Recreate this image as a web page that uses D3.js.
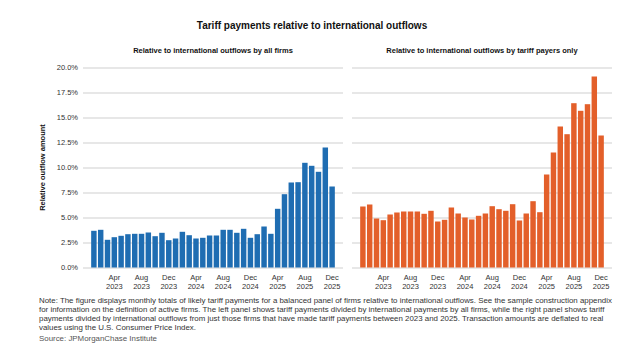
<!DOCTYPE html>
<html>
<head>
<meta charset="utf-8">
<script src="https://cdn.jsdelivr.net/npm/d3@7"></script>
<style>
  body { margin: 0; background: #fff; }
  svg { display: block; font-family: "Liberation Sans", Arial, sans-serif; }
</style>
</head>
<body>
<div id="chart"><svg width="624" height="352"></svg></div>
<script>
const months = [
  "Jan 2023", "Feb 2023", "Mar 2023", "Apr 2023", "May 2023", "Jun 2023",
  "Jul 2023", "Aug 2023", "Sep 2023", "Oct 2023", "Nov 2023", "Dec 2023",
  "Jan 2024", "Feb 2024", "Mar 2024", "Apr 2024", "May 2024", "Jun 2024",
  "Jul 2024", "Aug 2024", "Sep 2024", "Oct 2024", "Nov 2024", "Dec 2024",
  "Jan 2025", "Feb 2025", "Mar 2025", "Apr 2025", "May 2025", "Jun 2025",
  "Jul 2025", "Aug 2025", "Sep 2025", "Oct 2025", "Nov 2025", "Dec 2025"
];

// percent of international outflows
const allFirms = [
  3.67, 3.77, 2.77, 3.03, 3.17, 3.33, 3.37, 3.37, 3.5, 3.13, 3.47, 2.73,
  2.9, 3.57, 3.23, 2.9, 2.97, 3.2, 3.2, 3.77, 3.77, 3.47, 3.87, 2.97,
  3.33, 4.1, 3.37, 5.87, 7.33, 8.5, 8.53, 10.47, 10.17, 9.57, 12.0, 8.1
];
const tariffPayers = [
  6.1, 6.3, 4.9, 4.73, 5.3, 5.5, 5.6, 5.6, 5.6, 5.37, 5.67, 4.6,
  4.77, 6.0, 5.4, 5.0, 4.8, 5.17, 5.4, 6.13, 5.83, 5.67, 6.33, 4.7,
  5.4, 6.63, 5.53, 9.3, 11.5, 14.1, 13.33, 16.43, 15.67, 16.33, 19.1, 13.2
];

const tickMonths = [
  "Apr 2023", "Aug 2023", "Dec 2023", "Apr 2024", "Aug 2024", "Dec 2024",
  "Apr 2025", "Aug 2025", "Dec 2025"
];
const yTicks = [0, 2.5, 5, 7.5, 10, 12.5, 15, 17.5, 20];

const panelTitles = [
  "Relative to international outflows by all firms",
  "Relative to international outflows by tariff payers only"
];
const noteLines = [
  "Note: The figure displays monthly totals of likely tariff payments for a balanced panel of firms relative to international outflows. See the sample construction appendix",
  "for information on the definition of active firms. The left panel shows tariff payments divided by international payments by all firms, while the right panel shows tariff",
  "payments divided by international outflows from just those firms that have made tariff payments between 2023 and 2025. Transaction amounts are deflated to real",
  "values using the U.S. Consumer Price Index."
];

document.addEventListener("DOMContentLoaded", function () {
  const svg = d3.select("#chart svg");

  const y = d3.scaleLinear().domain([0, 20]).range([267.5, 67.5]);

  const panels = [
    { values: allFirms, color: "#1f6db2", x0: 83, x1: 343, title: panelTitles[0], yLabels: true },
    { values: tariffPayers, color: "#e35f2a", x0: 352, x1: 612, title: panelTitles[1], yLabels: false }
  ];

  svg.append("text")
    .attr("x", 312)
    .attr("y", 29)
    .attr("text-anchor", "middle")
    .style("font-size", "10px")
    .style("font-weight", "bold")
    .style("fill", "#111")
    .text("Tariff payments relative to international outflows");

  panels.forEach((p) => {
    const x = d3.scaleBand()
      .domain(months)
      .range([p.x0, p.x1])
      .paddingInner(0.2)
      .paddingOuter(1.2);

    const g = svg.append("g");

    g.append("text")
      .attr("x", (p.x0 + p.x1) / 2)
      .attr("y", 53)
      .attr("text-anchor", "middle")
      .style("font-size", "7.5px")
      .style("font-weight", "bold")
      .style("fill", "#111")
      .text(p.title);

    // gridlines
    const yAxis = g.append("g")
      .attr("transform", `translate(${p.x0},0)`)
      .call(
        d3.axisLeft(y)
          .tickValues(yTicks)
          .tickSize(-(p.x1 - p.x0))
          .tickPadding(5)
          .tickFormat((d) => (p.yLabels ? d.toFixed(1) + "%" : ""))
      );
    yAxis.select(".domain").remove();
    yAxis.selectAll(".tick line").attr("stroke", "#cfcfcf");
    yAxis.selectAll(".tick text")
      .style("font-size", "7.5px")
      .style("font-family", "Liberation Sans, Arial, sans-serif")
      .style("fill", "#333");

    g.selectAll("rect")
      .data(p.values)
      .enter()
      .append("rect")
      .attr("x", (d, i) => x(months[i]))
      .attr("width", x.bandwidth())
      .attr("y", (d) => y(d))
      .attr("height", (d) => y(0) - y(d))
      .attr("fill", p.color);

    const xAxis = g.append("g")
      .attr("transform", `translate(0,${y(0)})`)
      .call(d3.axisBottom(x).tickValues(tickMonths).tickSize(0).tickFormat(""));
    xAxis.select(".domain").remove();

    const labels = xAxis.selectAll(".tick")
      .append("text")
      .attr("text-anchor", "middle")
      .style("font-size", "7.5px")
      .style("fill", "#333");
    labels.append("tspan")
      .attr("x", 0)
      .attr("y", 12)
      .text((d) => d.split(" ")[0]);
    labels.append("tspan")
      .attr("x", 0)
      .attr("y", 21)
      .text((d) => d.split(" ")[1]);
  });

  svg.append("text")
    .attr("transform", `translate(45,${y(10)}) rotate(-90)`)
    .attr("text-anchor", "middle")
    .style("font-size", "7.5px")
    .style("font-weight", "bold")
    .style("fill", "#111")
    .text("Relative outflow amount");

  const note = svg.append("g").attr("transform", "translate(39,303)");
  note.selectAll("text")
    .data(noteLines)
    .enter()
    .append("text")
    .attr("x", 0)
    .attr("y", (d, i) => i * 9)
    .style("font-size", "7.9px")
    .style("fill", "#333")
    .text((d) => d);

  note.append("text")
    .attr("x", 0)
    .attr("y", 3 * 9 + 11)
    .style("font-size", "7.9px")
    .style("fill", "#555")
    .text("Source: JPMorganChase Institute");
});
</script>
</body>
</html>
